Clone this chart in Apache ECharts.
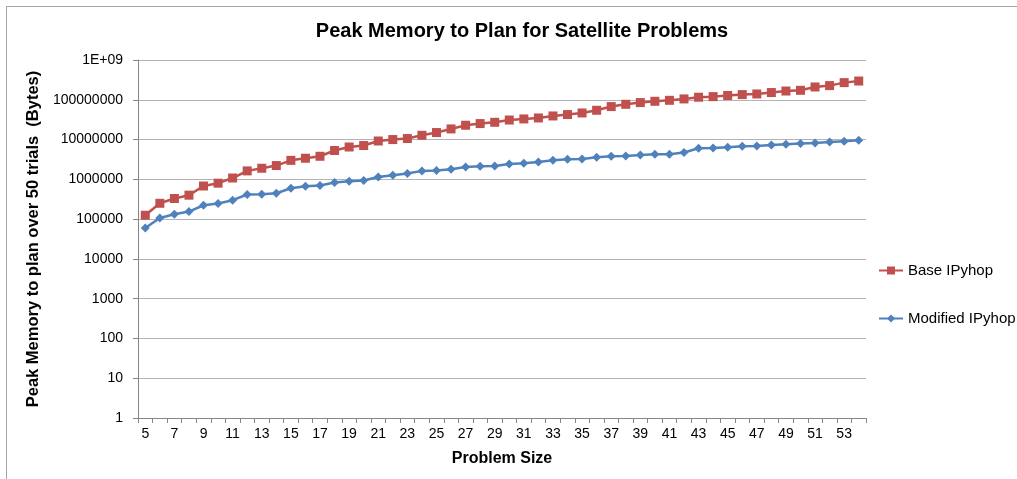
<!DOCTYPE html>
<html>
<head>
<meta charset="utf-8">
<script src="https://cdn.jsdelivr.net/npm/echarts@6/dist/echarts.min.js"></script>
<style>
html,body{margin:0;padding:0;background:#fff;overflow:hidden;}
#wrap{position:relative;width:1017px;height:479px;}
#frame{position:absolute;left:6px;top:6px;width:1100px;height:600px;border-left:1px solid #a6a6a6;border-top:1px solid #a6a6a6;}
#chart{position:absolute;left:0;top:0;width:1017px;height:479px;}
</style>
</head>
<body>
<div id="wrap"><div id="frame"></div><div id="chart"></div></div>
<script>
const problemSizes = [5,6,7,8,9,10,11,12,13,14,15,16,17,18,19,20,21,22,23,24,25,26,27,28,29,30,31,32,33,34,35,36,37,38,39,40,41,42,43,44,45,46,47,48,49,50,51,52,53,54];
const baseIPyhop = [125000,250000,330000,400000,680000,800000,1080000,1630000,1900000,2220000,3000000,3390000,3800000,5300000,6500000,7070000,9200000,10000000,10600000,12800000,15000000,18500000,22900000,25200000,27200000,31000000,33000000,34900000,39200000,42500000,46600000,54500000,67500000,77000000,85000000,91700000,97000000,105000000,116000000,120000000,128000000,135000000,140000000,152000000,166000000,173000000,210000000,227000000,270000000,296000000];
const modifiedIPyhop = [60000,107000,133000,155000,223000,247000,299000,415000,422000,448000,597000,671000,698000,832000,896000,933000,1150000,1270000,1400000,1630000,1660000,1800000,2050000,2130000,2170000,2440000,2540000,2740000,3020000,3200000,3260000,3590000,3800000,3870000,4100000,4270000,4300000,4710000,6040000,6150000,6410000,6790000,6900000,7310000,7620000,7940000,8200000,8700000,9060000,9600000];
const yTickLabels = {1:'1',10:'10',100:'100',1000:'1000',10000:'10000',100000:'100000',1000000:'1000000',10000000:'10000000',100000000:'100000000',1000000000:'1E+09'};

const FONT = '"Liberation Sans", Arial, sans-serif';
const chart = echarts.init(document.getElementById('chart'), null, {renderer:'canvas'});
chart.setOption({
  backgroundColor: 'transparent',
  animation: false,
  title: {
    text: 'Peak Memory to Plan for Satellite Problems',
    left: 517, top: 16, textAlign: 'center',
    textStyle: {fontFamily: FONT, fontSize: 20, fontWeight: 'bold', color: '#000'}
  },
  legend: {
    orient: 'vertical', left: 878, top: 263, itemGap: 33, padding: 0,
    itemWidth: 24, itemHeight: 10,
    textStyle: {fontFamily: FONT, fontSize: 15, color: '#000'},
    data: ['Base IPyhop', 'Modified IPyhop']
  },
  grid: {left: 138, right: 151, top: 60, bottom: 61, containLabel: false},
  xAxis: {
    type: 'category',
    data: problemSizes,
    boundaryGap: true,
    name: 'Problem Size', nameLocation: 'middle', nameGap: 33,
    nameTextStyle: {fontFamily: FONT, fontSize: 16, fontWeight: 'bold', color: '#000'},
    axisLine: {lineStyle: {color: '#868686', width: 1}},
    axisTick: {show: true, interval: 0, alignWithLabel: false, length: 5, lineStyle: {color: '#868686'}},
    axisLabel: {interval: 1, fontFamily: FONT, fontSize: 14, color: '#000', margin: 9},
    splitLine: {show: false}
  },
  yAxis: {
    type: 'log', logBase: 10, min: 1, max: 1000000000, interval: 1,
    name: 'Peak Memory to plan over 50 trials  (Bytes)', nameLocation: 'middle', nameGap: 96,
    nameTextStyle: {fontFamily: FONT, fontSize: 16.5, fontWeight: 'bold', color: '#000'},
    axisLine: {show: true, lineStyle: {color: '#868686', width: 1}},
    axisTick: {show: true, length: 5, lineStyle: {color: '#868686'}},
    axisLabel: {
      fontFamily: FONT, fontSize: 14, color: '#000', margin: 15,
      formatter: function (v) { const r = Math.round(v); return yTickLabels[r] !== undefined ? yTickLabels[r] : String(r); }
    },
    splitLine: {show: true, lineStyle: {color: '#b3b3b3', width: 1}},
    minorTick: {show: false}
  },
  series: [
    {
      name: 'Base IPyhop', type: 'line', data: baseIPyhop,
      symbol: 'rect', symbolSize: 9,
      lineStyle: {color: '#C0504D', width: 2.5},
      itemStyle: {color: '#C0504D'},
      z: 3
    },
    {
      name: 'Modified IPyhop', type: 'line', data: modifiedIPyhop,
      symbol: 'diamond', symbolSize: 9,
      lineStyle: {color: '#4F81BD', width: 2.5},
      itemStyle: {color: '#4F81BD'},
      z: 3
    }
  ]
});
</script>
</body>
</html>
